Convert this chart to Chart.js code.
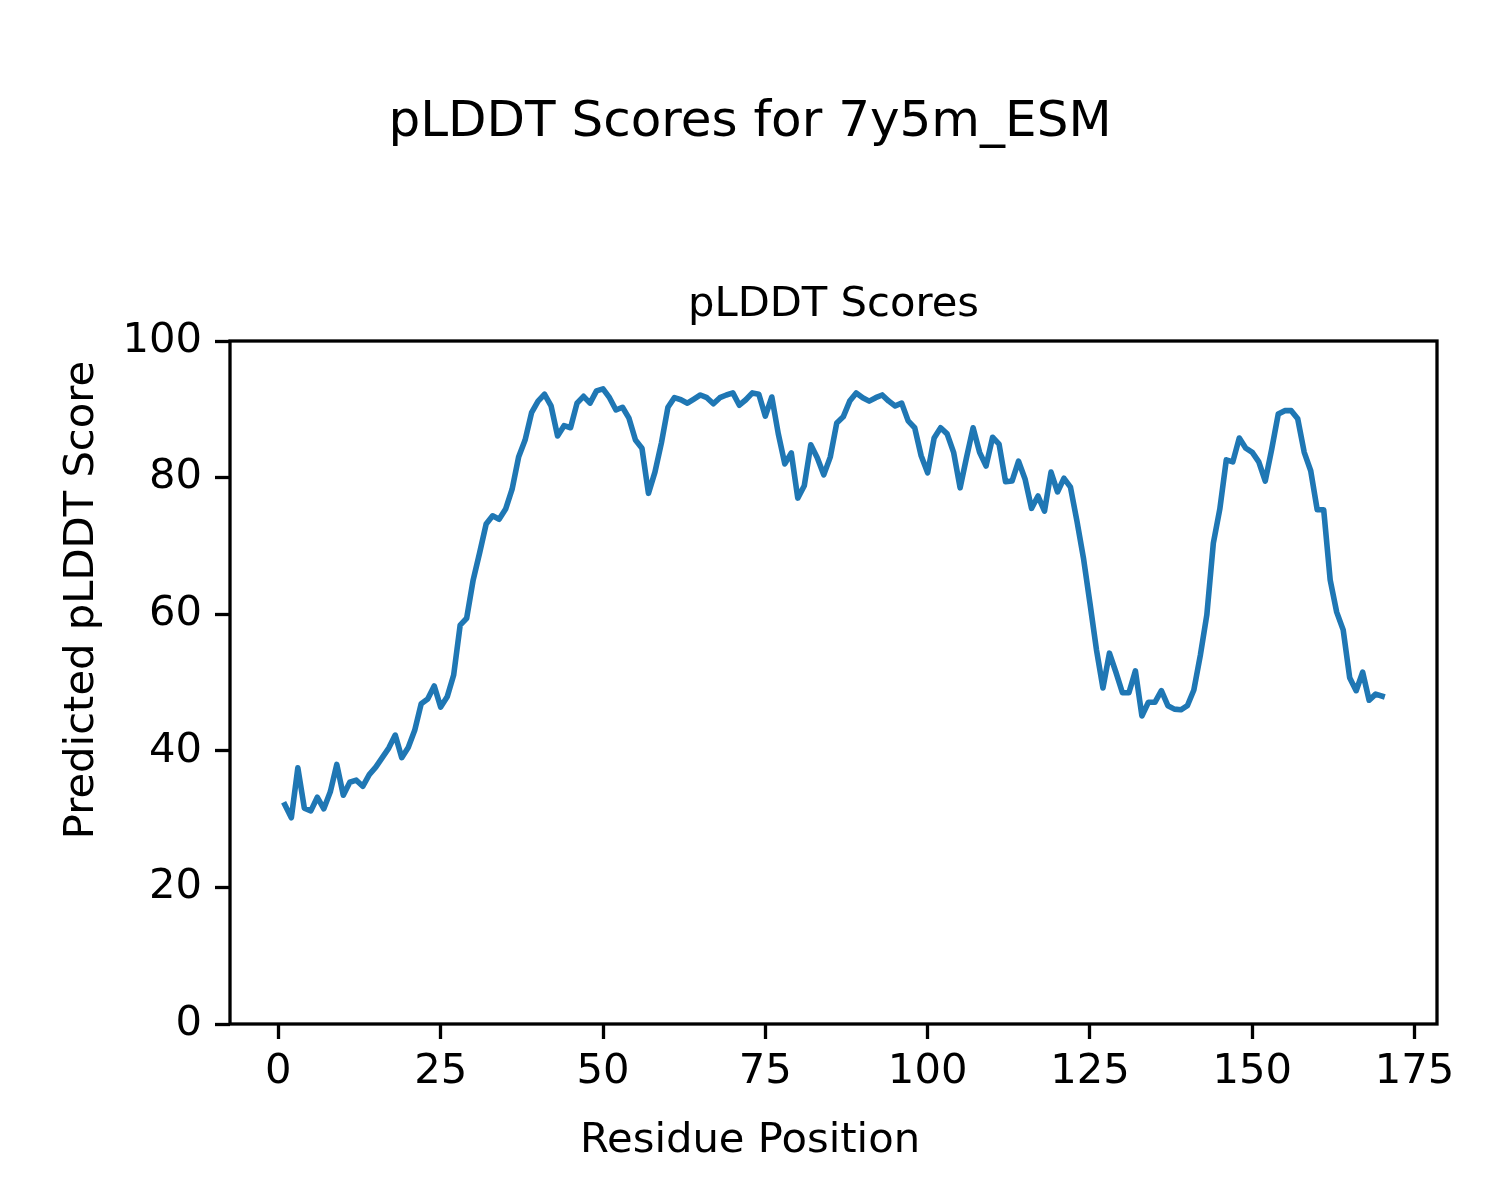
<!DOCTYPE html>
<html>
<head>
<meta charset="utf-8">
<title>pLDDT Scores for 7y5m_ESM</title>
<script src="https://cdn.jsdelivr.net/npm/chart.js@4.4.1/dist/chart.umd.min.js"></script>
<style>
  html, body { margin: 0; padding: 0; background: #ffffff; }
  #wrap { width: 1500px; height: 1200px; }
</style>
</head>
<body>
<div id="wrap"><canvas id="chart" width="1500" height="1200"></canvas></div>
<script>
// residue positions (x) and predicted pLDDT per residue (y)
const residues = [
  1, 2, 3, 4, 5, 6, 7, 8, 9, 10, 11, 12, 13, 14, 15, 16, 17, 18, 19, 20,
  21, 22, 23, 24, 25, 26, 27, 28, 29, 30, 31, 32, 33, 34, 35, 36, 37, 38, 39, 40,
  41, 42, 43, 44, 45, 46, 47, 48, 49, 50, 51, 52, 53, 54, 55, 56, 57, 58, 59, 60,
  61, 62, 63, 64, 65, 66, 67, 68, 69, 70, 71, 72, 73, 74, 75, 76, 77, 78, 79, 80,
  81, 82, 83, 84, 85, 86, 87, 88, 89, 90, 91, 92, 93, 94, 95, 96, 97, 98, 99, 100,
  101, 102, 103, 104, 105, 106, 107, 108, 109, 110, 111, 112, 113, 114, 115, 116, 117, 118, 119, 120,
  121, 122, 123, 124, 125, 126, 127, 128, 129, 130, 131, 132, 133, 134, 135, 136, 137, 138, 139, 140,
  141, 142, 143, 144, 145, 146, 147, 148, 149, 150, 151, 152, 153, 154, 155, 156, 157, 158, 159, 160,
  161, 162, 163, 164, 165, 166, 167, 168, 169, 170
];

const plddt = [
  32.1, 30.2, 37.5, 31.6, 31.2, 33.2, 31.5, 34.0, 38.0, 33.5,
  35.4, 35.7, 34.8, 36.5, 37.6, 39.0, 40.4, 42.3, 39.0, 40.5,
  43.0, 46.9, 47.6, 49.5, 46.4, 47.9, 51.1, 58.4, 59.4, 65.0,
  69.0, 73.2, 74.4, 73.9, 75.4, 78.3, 83.0, 85.5, 89.5, 91.2,
  92.2, 90.5, 86.1, 87.6, 87.3, 90.9, 91.9, 90.9, 92.7, 93.0,
  91.7, 89.9, 90.3, 88.7, 85.5, 84.3, 77.7, 80.8, 85.1, 90.3,
  91.7, 91.4, 90.9, 91.5, 92.1, 91.7, 90.8, 91.7, 92.1, 92.4,
  90.6, 91.4, 92.4, 92.2, 89.0, 91.8, 86.4, 82.0, 83.6, 77.0,
  78.8, 84.8, 82.9, 80.4, 83.0, 88.0, 88.9, 91.2, 92.4, 91.7,
  91.2, 91.7, 92.1, 91.2, 90.5, 90.9, 88.3, 87.3, 83.2, 80.7,
  85.8, 87.3, 86.4, 83.7, 78.5, 83.0, 87.3, 83.7, 81.7, 85.9,
  84.9, 79.4, 79.5, 82.4, 79.8, 75.5, 77.3, 75.1, 80.8, 77.9,
  79.9, 78.6, 73.6, 68.2, 61.6, 54.8, 49.2, 54.3, 51.5, 48.5,
  48.5, 51.7, 45.1, 47.1, 47.1, 48.8, 46.6, 46.1, 46.0, 46.6,
  48.9, 54.0, 59.9, 70.4, 75.4, 82.6, 82.3, 85.8, 84.3, 83.7,
  82.3, 79.5, 84.2, 89.3, 89.8, 89.8, 88.6, 83.7, 81.0, 75.3,
  75.3, 65.0, 60.3, 57.7, 50.7, 48.8, 51.5, 47.4, 48.3, 48.0
];

const xTicks = [0, 25, 50, 75, 100, 125, 150, 175];
const yTicks = [0, 20, 40, 60, 80, 100];

const figTitle = 'pLDDT Scores for 7y5m_ESM';
const axTitle = 'pLDDT Scores';
const xLabel = 'Residue Position';
const yLabel = 'Predicted pLDDT Score';

const FONT = '"DejaVu Sans", "Liberation Sans", sans-serif';
const BLUE = '#1f77b4';

// titles, labels and the full axes frame (matplotlib style)
const figureText = {
  id: 'figureText',
  afterDraw(chart) {
    const ctx = chart.ctx;
    const area = chart.chartArea;
    ctx.save();
    ctx.strokeStyle = '#000';
    ctx.lineWidth = 3.3;
    ctx.strokeRect(area.left, area.top, area.right - area.left, area.bottom - area.top);

    ctx.fillStyle = '#000';
    ctx.textAlign = 'center';
    ctx.textBaseline = 'alphabetic';

    ctx.font = '50px ' + FONT;
    ctx.fillText(figTitle, 750, 136);

    ctx.font = '41.7px ' + FONT;
    ctx.fillText(axTitle, (area.left + area.right) / 2, area.top - 25);

    ctx.fillText(xLabel, 750, 1152);

    ctx.translate(93, 600);
    ctx.rotate(-Math.PI / 2);
    ctx.fillText(yLabel, 0, 0);
    ctx.restore();
  }
};

new Chart(document.getElementById('chart'), {
  type: 'line',
  data: {
    datasets: [{
      label: 'pLDDT',
      data: residues.map((r, i) => ({ x: r, y: plddt[i] })),
      borderColor: BLUE,
      borderWidth: 5.6,
      borderJoinStyle: 'round',
      borderCapStyle: 'square',
      pointRadius: 0,
      tension: 0,
      fill: false
    }]
  },
  options: {
    responsive: false,
    animation: false,
    devicePixelRatio: 1,
    layout: { padding: { left: 0, top: 341, right: 63, bottom: 0 } },
    plugins: {
      legend: { display: false },
      title: { display: false },
      tooltip: { enabled: false }
    },
    scales: {
      x: {
        type: 'linear',
        min: -7.45,
        max: 178.45,
        afterBuildTicks: (scale) => { scale.ticks = xTicks.map(v => ({ value: v })); },
        afterFit: (scale) => { scale.height = 176; },
        grid: {
          drawOnChartArea: false,
          drawTicks: true,
          tickLength: 15,
          tickWidth: 3.3,
          tickColor: '#000'
        },
        border: { display: false },
        ticks: {
          color: '#000',
          padding: 8,
          maxRotation: 0,
          autoSkip: false,
          font: { family: FONT, size: 41.7 }
        }
      },
      y: {
        type: 'linear',
        min: 0,
        max: 100,
        afterBuildTicks: (scale) => { scale.ticks = yTicks.map(v => ({ value: v })); },
        afterFit: (scale) => { scale.width = 230; },
        grid: {
          drawOnChartArea: false,
          drawTicks: true,
          tickLength: 15,
          tickWidth: 3.3,
          tickColor: '#000'
        },
        border: { display: false },
        ticks: {
          color: '#000',
          padding: 13,
          autoSkip: false,
          font: { family: FONT, size: 41.7 }
        }
      }
    }
  },
  plugins: [figureText]
});
</script>
</body>
</html>
